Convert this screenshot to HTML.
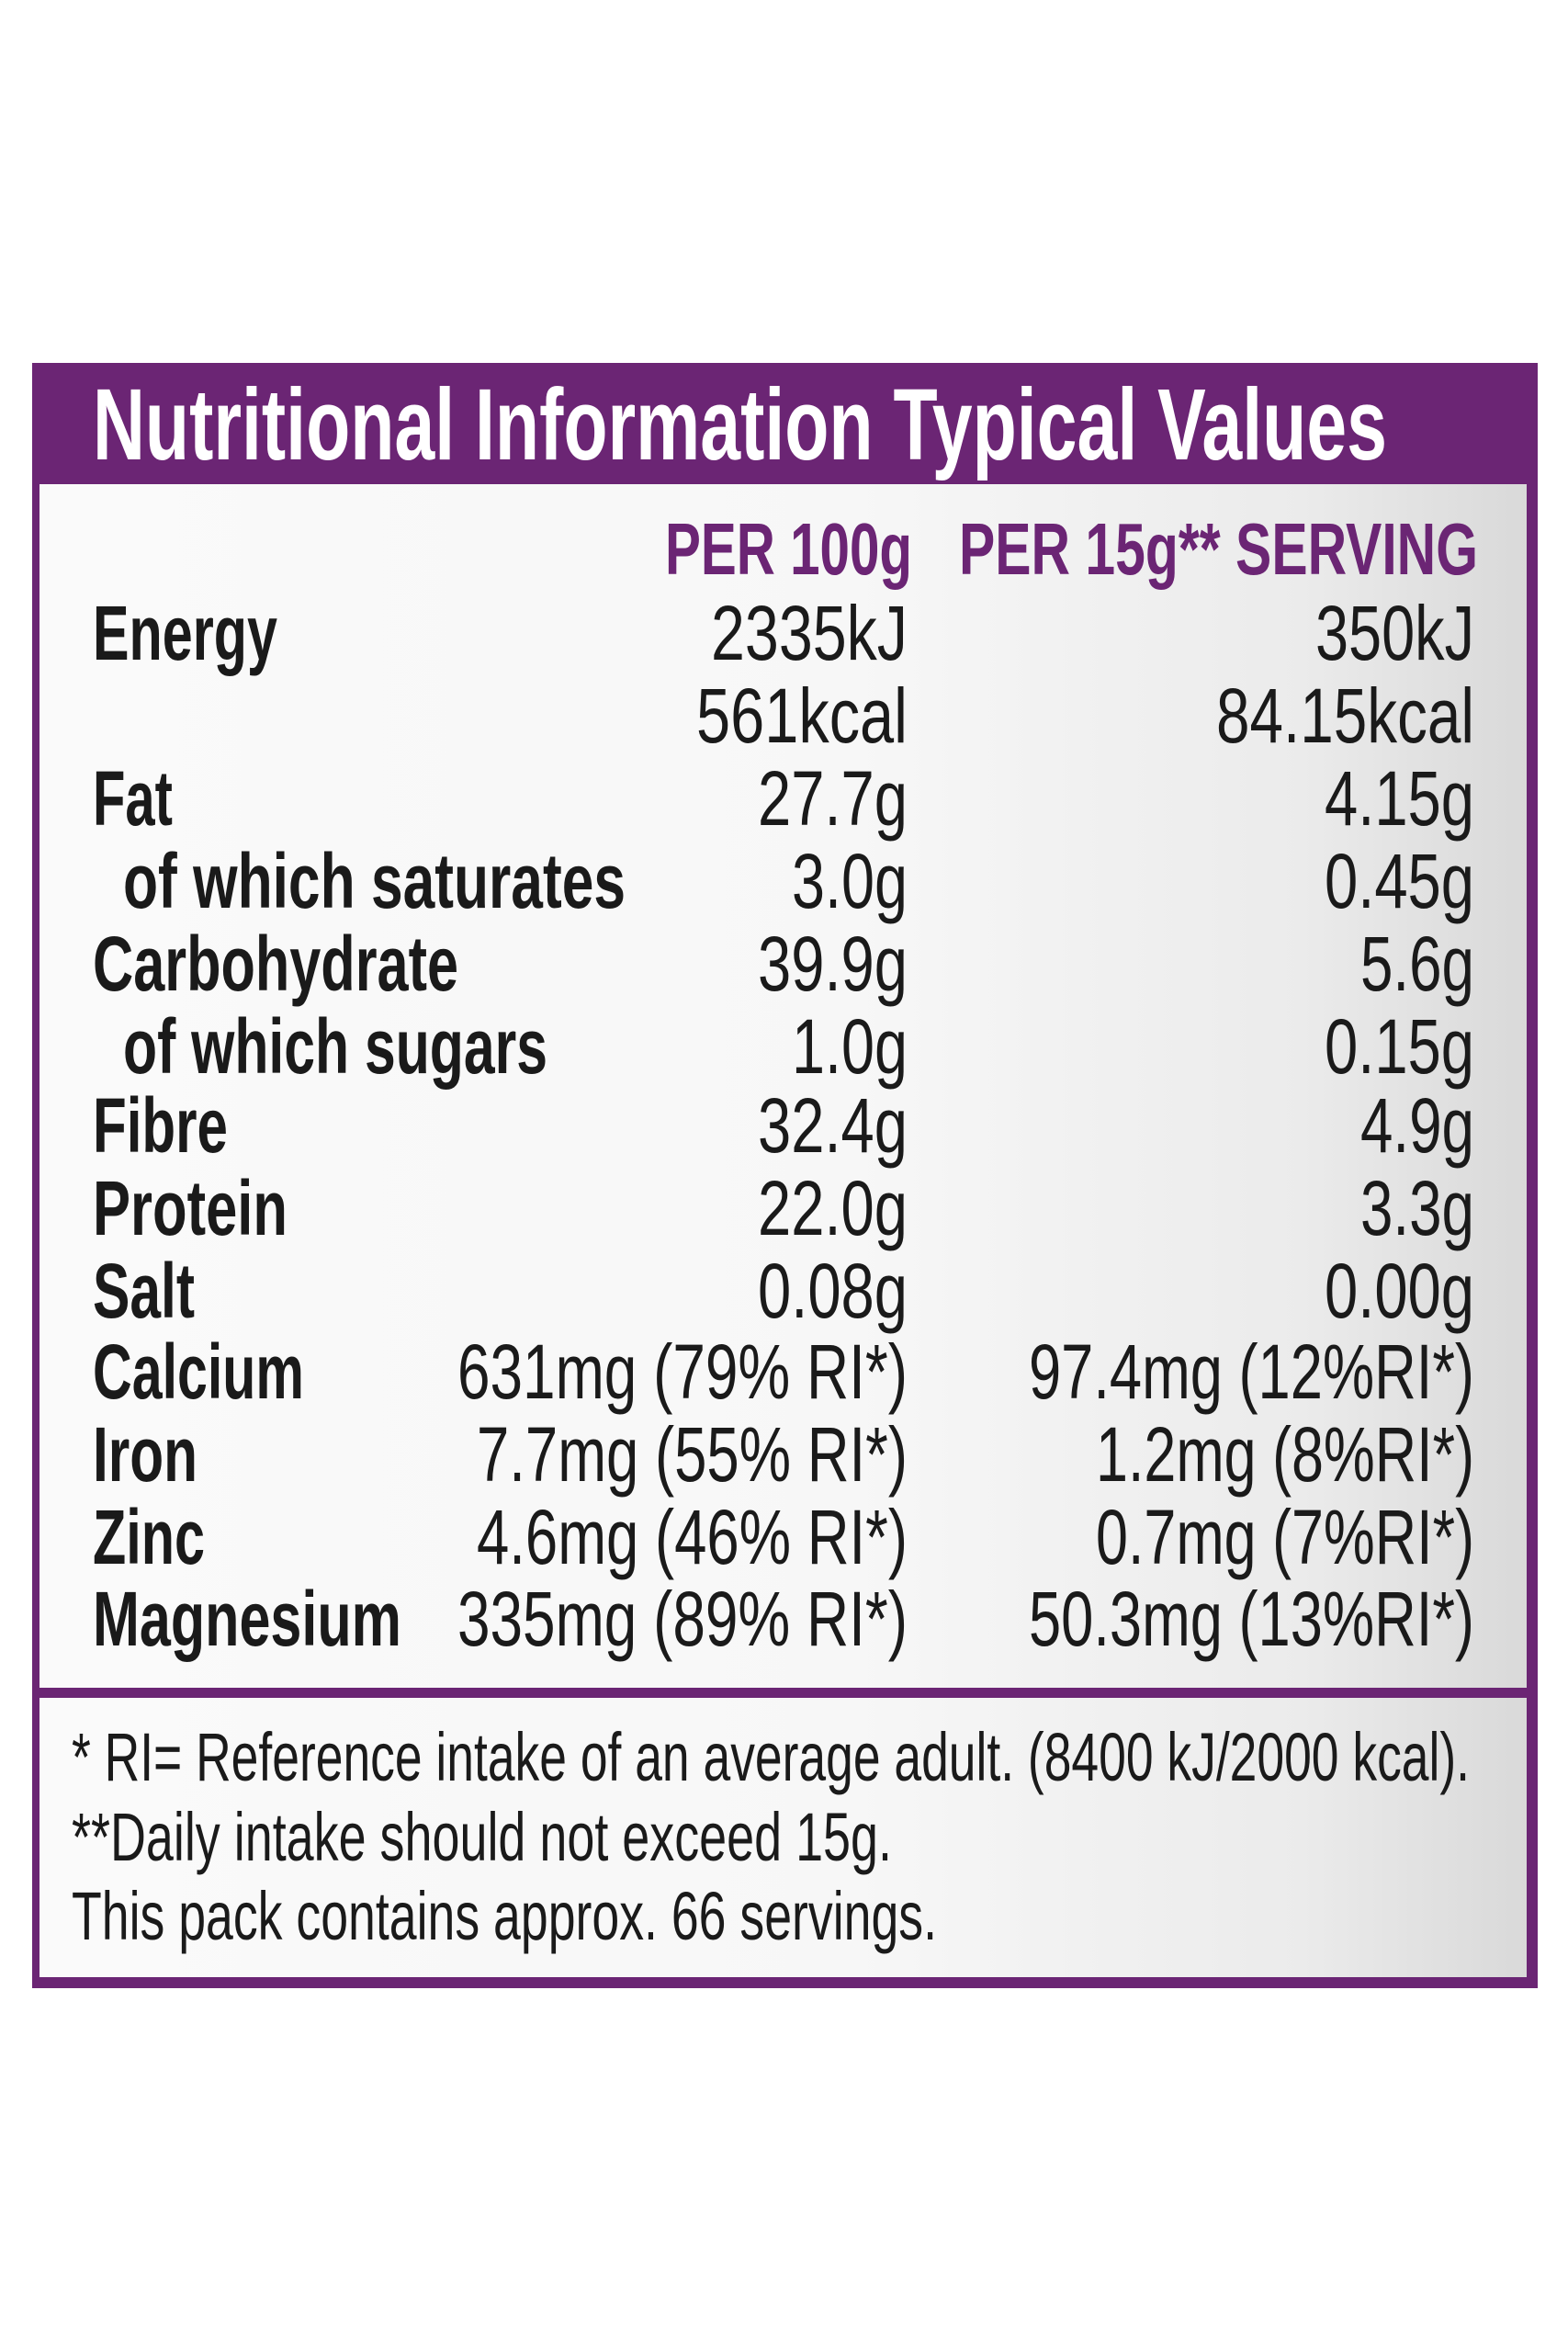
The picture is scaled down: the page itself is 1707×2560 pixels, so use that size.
<!DOCTYPE html>
<html><head><meta charset="utf-8"><style>
html,body{margin:0;padding:0;background:#fff;}
svg{display:block;}
text{font-family:"Liberation Sans Narrow","Liberation Sans",sans-serif;}
</style></head><body>
<svg width="1707" height="2560" viewBox="0 0 1707 2560" xmlns="http://www.w3.org/2000/svg">
<defs>
<linearGradient id="bg" x1="0" y1="0" x2="1" y2="0">
<stop offset="0" stop-color="#fafafa"/>
<stop offset="0.55" stop-color="#f7f7f7"/>
<stop offset="0.85" stop-color="#ebebeb"/>
<stop offset="1" stop-color="#d9d9d9"/>
</linearGradient>
</defs>
<rect x="35" y="395" width="1639" height="1769" fill="#6b2574"/>
<rect x="43" y="527" width="1619" height="1310" fill="url(#bg)"/>
<rect x="43" y="1848" width="1619" height="304" fill="url(#bg)"/>
<text x="101" y="500" font-size="110" font-weight="bold" fill="#fff" textLength="1409" lengthAdjust="spacingAndGlyphs">Nutritional Information Typical Values</text>
<g font-size="80" font-weight="bold" fill="#6b2574" text-anchor="end">
<text x="993" y="625" textLength="269" lengthAdjust="spacingAndGlyphs">PER 100g</text>
<text x="1609" y="625" textLength="565" lengthAdjust="spacingAndGlyphs">PER 15g** SERVING</text>
</g>
<g font-size="84" fill="#1a1a1a" lengthAdjust="spacingAndGlyphs">
<text x="101" y="718" font-weight="bold" textLength="201" lengthAdjust="spacingAndGlyphs">Energy</text>
<text x="101" y="898" font-weight="bold" textLength="87" lengthAdjust="spacingAndGlyphs">Fat</text>
<text x="134" y="988" font-weight="bold" textLength="547" lengthAdjust="spacingAndGlyphs">of which saturates</text>
<text x="101" y="1078" font-weight="bold" textLength="398" lengthAdjust="spacingAndGlyphs">Carbohydrate</text>
<text x="134" y="1168" font-weight="bold" textLength="462" lengthAdjust="spacingAndGlyphs">of which sugars</text>
<text x="101" y="1254" font-weight="bold" textLength="147" lengthAdjust="spacingAndGlyphs">Fibre</text>
<text x="101" y="1344" font-weight="bold" textLength="212" lengthAdjust="spacingAndGlyphs">Protein</text>
<text x="101" y="1434" font-weight="bold" textLength="111" lengthAdjust="spacingAndGlyphs">Salt</text>
<text x="101" y="1522" font-weight="bold" textLength="230" lengthAdjust="spacingAndGlyphs">Calcium</text>
<text x="101" y="1612" font-weight="bold" textLength="114" lengthAdjust="spacingAndGlyphs">Iron</text>
<text x="101" y="1702" font-weight="bold" textLength="122" lengthAdjust="spacingAndGlyphs">Zinc</text>
<text x="101" y="1791" font-weight="bold" textLength="336" lengthAdjust="spacingAndGlyphs">Magnesium</text>
</g>
<g font-size="84" fill="#1a1a1a" text-anchor="end">
<text x="988" y="718" textLength="214" lengthAdjust="spacingAndGlyphs">2335kJ</text>
<text x="988" y="808" textLength="230" lengthAdjust="spacingAndGlyphs">561kcal</text>
<text x="988" y="898" textLength="163" lengthAdjust="spacingAndGlyphs">27.7g</text>
<text x="988" y="988" textLength="126" lengthAdjust="spacingAndGlyphs">3.0g</text>
<text x="988" y="1078" textLength="163" lengthAdjust="spacingAndGlyphs">39.9g</text>
<text x="988" y="1168" textLength="126" lengthAdjust="spacingAndGlyphs">1.0g</text>
<text x="988" y="1254" textLength="163" lengthAdjust="spacingAndGlyphs">32.4g</text>
<text x="988" y="1344" textLength="163" lengthAdjust="spacingAndGlyphs">22.0g</text>
<text x="988" y="1434" textLength="163" lengthAdjust="spacingAndGlyphs">0.08g</text>
<text x="988" y="1522" textLength="490" lengthAdjust="spacingAndGlyphs">631mg (79% RI*)</text>
<text x="988" y="1612" textLength="469" lengthAdjust="spacingAndGlyphs">7.7mg (55% RI*)</text>
<text x="988" y="1702" textLength="469" lengthAdjust="spacingAndGlyphs">4.6mg (46% RI*)</text>
<text x="988" y="1791" textLength="490" lengthAdjust="spacingAndGlyphs">335mg (89% RI*)</text>
<text x="1605" y="718" textLength="173" lengthAdjust="spacingAndGlyphs">350kJ</text>
<text x="1605" y="808" textLength="281" lengthAdjust="spacingAndGlyphs">84.15kcal</text>
<text x="1605" y="898" textLength="163" lengthAdjust="spacingAndGlyphs">4.15g</text>
<text x="1605" y="988" textLength="163" lengthAdjust="spacingAndGlyphs">0.45g</text>
<text x="1605" y="1078" textLength="124" lengthAdjust="spacingAndGlyphs">5.6g</text>
<text x="1605" y="1168" textLength="163" lengthAdjust="spacingAndGlyphs">0.15g</text>
<text x="1605" y="1254" textLength="124" lengthAdjust="spacingAndGlyphs">4.9g</text>
<text x="1605" y="1344" textLength="124" lengthAdjust="spacingAndGlyphs">3.3g</text>
<text x="1605" y="1434" textLength="163" lengthAdjust="spacingAndGlyphs">0.00g</text>
<text x="1605" y="1522" textLength="485" lengthAdjust="spacingAndGlyphs">97.4mg (12%RI*)</text>
<text x="1605" y="1612" textLength="412" lengthAdjust="spacingAndGlyphs">1.2mg (8%RI*)</text>
<text x="1605" y="1702" textLength="412" lengthAdjust="spacingAndGlyphs">0.7mg (7%RI*)</text>
<text x="1605" y="1791" textLength="485" lengthAdjust="spacingAndGlyphs">50.3mg (13%RI*)</text>
</g>
<g font-size="74" fill="#1a1a1a">
<text x="78" y="1938" textLength="1522" lengthAdjust="spacingAndGlyphs">* RI= Reference intake of an average adult. (8400 kJ/2000 kcal).</text>
<text x="78" y="2025" textLength="893" lengthAdjust="spacingAndGlyphs">**Daily intake should not exceed 15g.</text>
<text x="78" y="2111" textLength="942" lengthAdjust="spacingAndGlyphs">This pack contains approx. 66 servings.</text>
</g>
</svg>
</body></html>
